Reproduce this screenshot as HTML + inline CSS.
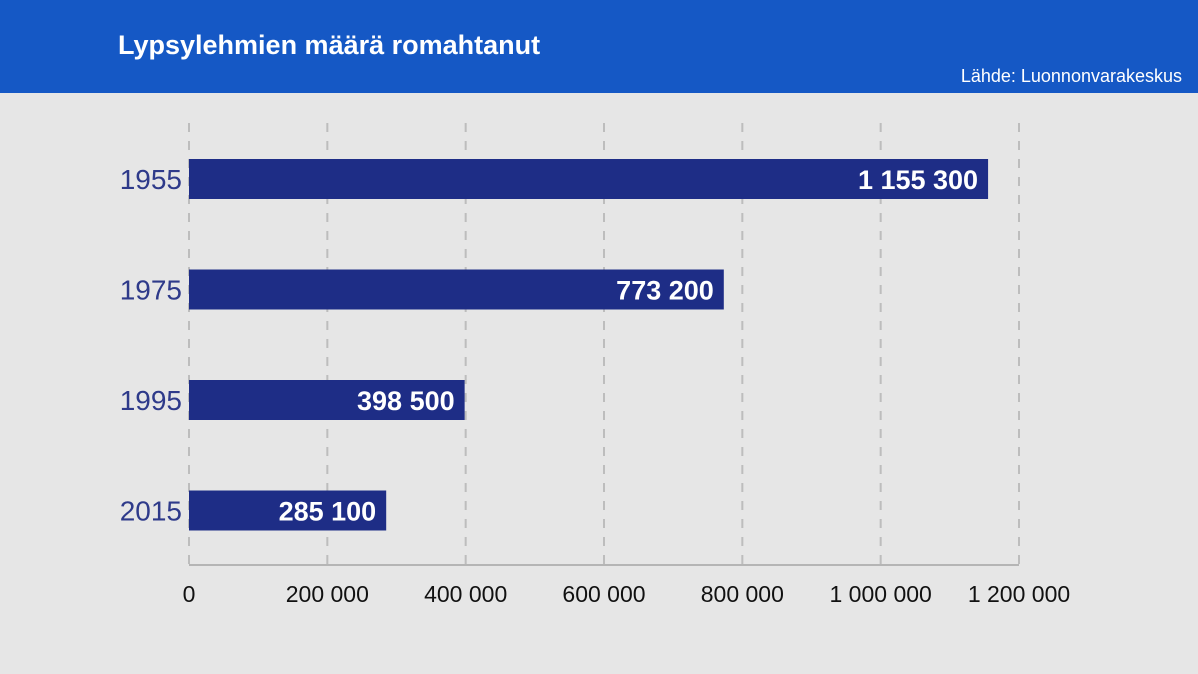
<!DOCTYPE html>
<html><head><meta charset="utf-8"><style>
body{margin:0;width:1198px;height:674px;background:#e6e6e6;overflow:hidden;font-family:"Liberation Sans","DejaVu Sans",sans-serif}
#hdr{position:absolute;left:0;top:0;width:1198px;height:93px;background:#1558c5}
#title{position:absolute;left:118px;top:30px;color:#fff;font-weight:bold;font-size:27px}
#src{position:absolute;right:16px;top:66px;color:#fff;font-size:18px}
</style></head><body>
<div id="hdr">
<div id="title">Lypsylehmien määrä romahtanut</div>
<div id="src">Lähde: Luonnonvarakeskus</div>
</div>
<svg id="chart" width="1198" height="674" style="position:absolute;left:0;top:0"></svg>
<script>
const categories=["1955","1975","1995","2015"];
const values=[1155300,773200,398500,285100];
const valueLabels=["1 155 300","773 200","398 500","285 100"];
const ticks=[0,200000,400000,600000,800000,1000000,1200000];
const tickLabels=["0","200 000","400 000","600 000","800 000","1 000 000","1 200 000"];
const svg=document.getElementById('chart');const NS='http://www.w3.org/2000/svg';
const x0=189,x1=1019,xmax=1200000;
function xs(v){return x0+(v/xmax)*(x1-x0);}
function ys(i){return 159+i*110.5;}
const bh=40;
function mk(t,a){const e=document.createElementNS(NS,t);for(const k in a)e.setAttribute(k,a[k]);svg.appendChild(e);return e;}
ticks.forEach((t,i)=>{
 const g=mk('line',{x1:xs(t),x2:xs(t),y1:123,y2:565,stroke:'#bdbdbd','stroke-width':2,'stroke-dasharray':'9,9'});
 
 
 const l=mk('text',{x:xs(t),y:602,'text-anchor':'middle','font-size':23,fill:'#111'});
 l.textContent=tickLabels[i];
 
 
});
const ax=mk('line',{x1:x0,x2:x1,y1:565,y2:565,stroke:'#b5b5b5','stroke-width':2});


categories.forEach((c,i)=>{
 const y=ys(i);
 const r=mk('rect',{x:x0,y:y,width:xs(values[i])-x0,height:bh,fill:'#1e2d86'});
 
 
 const lab=mk('text',{x:182,y:y+bh/2+10,'text-anchor':'end','font-size':28,fill:'#2e3a8a'});
 lab.textContent=c;
 
 
 const v=mk('text',{x:xs(values[i])-10,y:y+bh/2+10,'text-anchor':'end','font-size':27,'font-weight':'bold',fill:'#fff'});
 v.textContent=valueLabels[i];
 
 
});
</script>
</body></html>
